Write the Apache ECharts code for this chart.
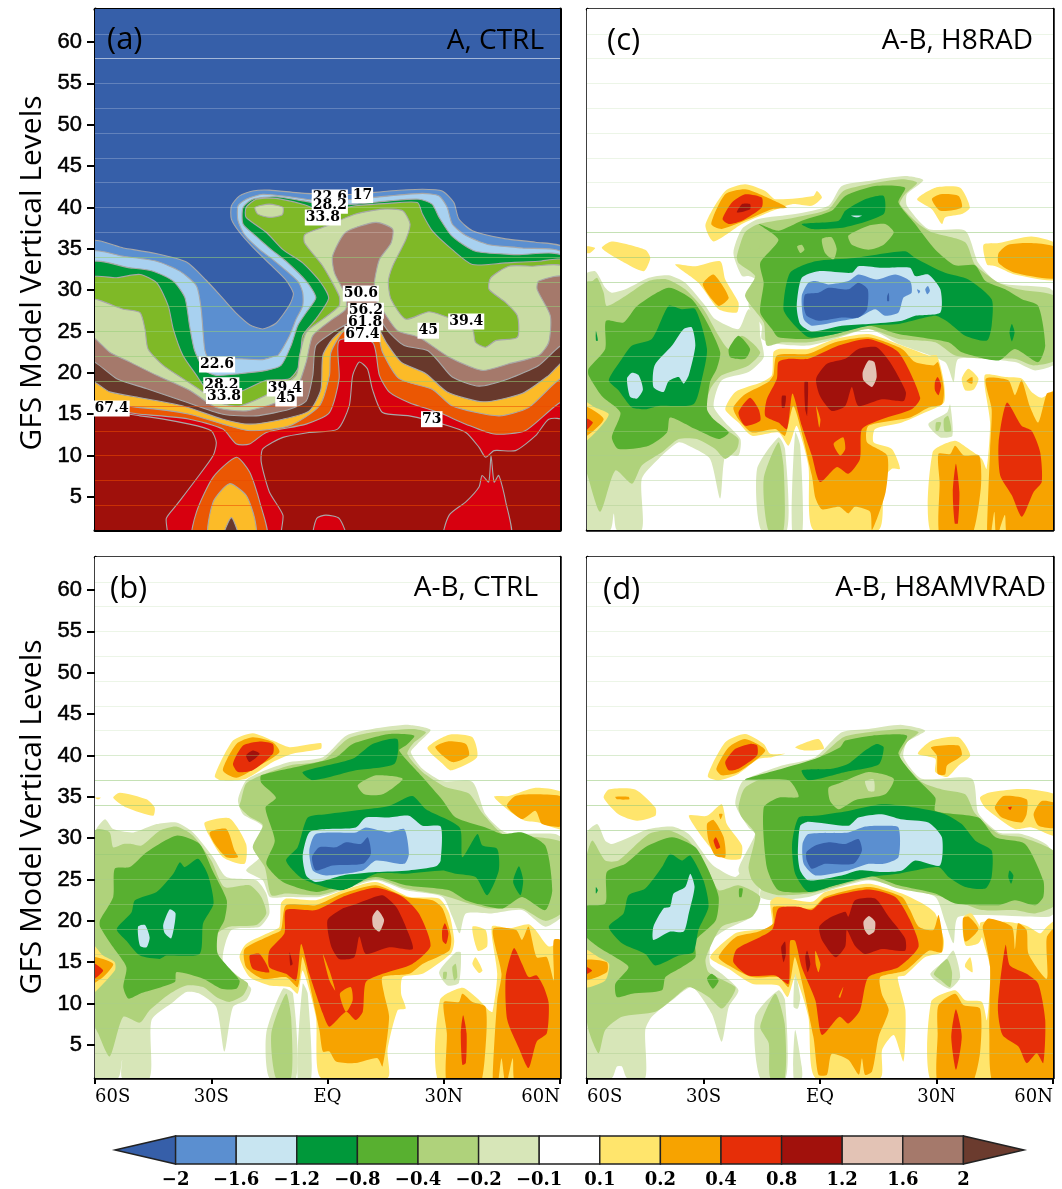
<!DOCTYPE html>
<html><head><meta charset="utf-8">
<style>html,body{margin:0;padding:0;background:#fff}#c{width:1062px;height:1189px}</style>
<script src="https://cdn.jsdelivr.net/npm/echarts@6/dist/echarts.min.js"></script></head>
<body><div id="c"></div>
<script>
const xTicks = {'-60':'60S','-30':'30S','0':'EQ','30':'30N','60':'60N'};
const yTicks = [5,10,15,20,25,30,35,40,45,50,55,60];
const faintLevels = [4,7,10,13,16,19,22,25,28,31,34,37,40,43,46,49,52,55,58,61];
const colorbarLabels = ['−2','−1.6','−1.2','−0.8','−0.4','−0.2','−0.1','0.1','0.2','0.4','0.8','1.2','1.6','2'];
const diffColors = ['#365fa9','#5b8fd0','#c8e5f1','#00983a','#58b030','#afd27b','#d7e6b8','#ffffff','#ffe56c','#f7a300','#e62e08','#a1110c','#e3c3b5','#a5796b','#6b3b2e'];
const ctrlColors = ['#365fa9','#5b8fd0','#a8d1f0','#00983a','#7fb927','#c9dca3','#a5796b','#68392c','#fcbb28','#eb5703','#d7000f','#9f100b'];

// contour regions: [colour class, [lat, level, lat, level, ...]], outermost first
const regionsA = [
[1,[-61,35.8,-52.7,35.1,-44,34.4,-36.4,33.4,-31.3,31.2,-27,29,-23.5,27.2,-20,25.8,-16.7,25.3,-13.3,26,-9.8,28.2,-8.8,29.6,-10.7,31.2,-15,33.2,-19.3,35.2,-22.7,37,-24.8,38.6,-24.8,40.2,-22.7,41.4,-19.3,42,-15,42.1,-8.1,41.8,-1.2,41.6,7.3,41.6,15.9,42,24.5,42.2,29.6,42,32.6,40.6,33.9,38.6,37.4,37.2,46,36.2,53.7,35.8,61,35,61,0,-61,0]],
[2,[-61,34.5,-52.7,34.1,-44.1,33.5,-38.1,32.3,-33.8,30.5,-32.6,27.7,-31.7,22.9,-30.8,21.9,-22.7,21.7,-16.7,21.6,-13.8,22,-12.8,22.1,-9.8,24.5,-8.1,26.5,-6.4,28.1,-6.4,29.7,-7.7,31.1,-14.1,33.7,-17.5,34.9,-21.4,36.7,-23.1,38.4,-23.1,40.2,-21,41,-16.7,41.6,-9.8,41.3,-3.8,40.9,7.3,41,15.9,41.4,24.5,41.7,28.8,41.4,30.9,40,32.2,38,35.7,36.6,41.7,35.5,50.2,35.1,61,34.3,61,0,-61,0]],
[3,[-61,33.2,-51,32.7,-45,32.3,-39.8,31.1,-36.8,29.1,-35.6,25.7,-34.3,22.7,-31.7,20.3,-28.7,19.7,-22.7,19.9,-15.8,20.3,-12,20.9,-9.4,23.3,-7.7,25.7,-5.5,27.3,-3,29.1,-5.5,31.1,-10.7,33.5,-14.5,34.9,-18.4,36.5,-21.8,38,-21.8,40,-19.3,41,-13.3,41.3,-6.4,40.8,-1.2,40.4,7.3,40.4,15.9,40.8,23.6,41,27,40.4,28.8,38.8,32.2,36.5,38.2,34.7,48.5,34.3,61,33.9,61,0,-61,0]],
[4,[-61,31.4,-54.4,31.5,-48.4,31.9,-44.1,30.9,-41.1,28.1,-39.8,25.3,-37.3,22.1,-33.8,19.7,-31.7,18.3,-28.7,17.5,-22.7,17.7,-15.8,19.1,-9.8,19.3,-7.2,20.9,-6.4,24.5,-3,26.5,0.3,29,-1.7,30.9,-6.4,33.3,-11.5,34.9,-15.8,37,-21,38.8,-21,40,-18.4,41,-13.3,41.1,-6.4,40.4,-1.2,39.6,7.3,40.2,15.9,40.5,23.2,40.6,24.5,39.2,27,37.2,32.2,34.9,37.4,33.1,46,33.3,54.5,33.5,61,33.5,61,0,-61,0]],
[5,[-61,28.7,-52.7,27.7,-48.4,27.3,-47.1,25.3,-46.3,22.9,-42.4,20.9,-37.3,19.3,-32.1,17.7,-27.9,16.4,-22.7,16,-15,17.5,-8.1,19.7,-7.2,22.1,-5.5,24.9,-1.2,26.5,3,28.1,3,29.3,-1.2,32.9,-5.9,35.7,-5.9,36.7,-1.2,37.6,7.3,39.2,14.2,39.8,19.4,39.6,21.3,38,20.2,36.1,16.8,32.9,15.7,31,16.4,28.9,20.2,26.5,26.2,27.4,32.2,26.5,37.4,25.3,38.2,23.7,40.8,23.1,43.4,23.9,49,24.3,49,26.9,46,28.5,41.7,30.1,42.1,31.5,46.8,32.9,52.8,32.9,61,32.7,61,0,-61,0]],
[5,[-18.7,40,-15,40.4,-11.5,40,-11.7,39.1,-15,38.8,-18,39.2]],
[6,[-61,24.3,-56.2,22.5,-51,21.3,-44.1,19.7,-35.6,17.9,-28.7,15.8,-21,15.4,-13.3,16.4,-8.1,18,-5.5,21.3,-3.8,24.5,1.3,26.5,4.7,27.7,4.7,29.3,1.8,32.1,1.3,34.1,4.7,37,12.5,38.2,16.8,37.4,16.4,35.7,13.4,33.7,12.1,30.9,12.5,28.9,14.6,27.3,18.1,25.1,23.6,24.3,31.4,21.9,39.9,20.3,46.8,21.1,54.5,22.1,57.1,23.7,57.5,26.9,54.1,30.1,54.5,31.1,61,31.5,61,0,-61,0]],
[7,[-61,21.3,-54.4,19.3,-46.8,18.1,-37.3,16.6,-27,15,-18.4,14.8,-9.8,15.6,-5.5,16.6,-3.8,19.7,-3,23.3,1.3,24.9,5.6,26.1,7.3,26.9,12.5,26.9,15.9,24.9,19.8,23.3,25.8,22.7,28.8,21.3,32.2,19.5,39.1,18.4,46.8,19.3,54.5,20.9,61,23.3,61,0,-61,0]],
[8,[-61,18.9,-56.2,17.7,-48.4,17,-37.3,16,-27,14.4,-20.1,13.8,-11.5,14.4,-4.7,15.4,-1.7,18,-1.2,22.1,1.3,24.1,5.6,25.7,12.5,25.7,15.1,23.7,19,21.3,25.4,19.9,30.9,17.7,40.2,16.5,50.2,17.5,57.1,19.7,61,21.3,61,0,-61,0]],
[9,[-61,16,-48.4,15.8,-35.6,15,-27,13.8,-20.1,13,-9.8,13.6,-2.1,16,0.5,19.7,0.9,22.5,4.8,25.3,12.5,25.1,14.2,22.5,18.5,19.3,27.1,18,32.2,16,44.2,14.8,51.9,15.8,61,19.3,61,0,-61,0]],
[10,[-61,15.4,-48.4,15,-35.6,14.4,-27,13.2,-23.5,11.4,-20.1,11.4,-15.8,12.8,-5.5,13.8,0.5,15.2,3,19.3,3,23.9,11.6,23.7,13.4,19.7,15.9,17.7,21.1,16.4,28.8,15.2,35.7,13.8,43,12.6,51,13,61,16.4,61,0,-61,0]],
[11,[-61,15,-48.4,14.8,-35.6,13.8,-30,13,-28.7,11.6,-29.5,10,-33.8,7.2,-39,4,-41.6,2.4,-41.6,0,-61,0]],
[11,[-17.1,9.2,-16.7,10.8,-11.5,12.2,-4.7,12.8,2.6,13.2,5.6,16,6.5,19.7,8.2,21.3,10.3,20.5,11.6,18,14.2,15.2,21.1,14.8,29.7,13.8,35.7,12.8,39.1,11,40.8,9.8,43,10.6,48.5,10.6,53.7,12.4,57.1,14.4,61,14.2,61,0,-11.5,0,-11.5,2.8,-15,5.6]],
[9,[-34.7,0,-33.8,3.2,-29.5,7.4,-23.5,9.8,-20.1,8,-17.5,4.4,-15.8,0]],
[8,[-30.6,0,-29.5,4.4,-25.3,6.6,-21,5.2,-18.8,2.4,-18.7,0]],
[7,[-27,0,-24.8,2.5,-22.9,0]],
[10,[-3.6,0,-2.8,2.4,-0.4,2.8,3,2.4,4.8,0]],
[10,[30.1,0,31.4,2.8,35.7,4.4,39.1,6.2,39.9,7.6,41.6,6.8,42.2,10,43,6.8,44.2,7.6,46,4.4,47.2,0]]
];

const regionsB = [
[6,[-60,30.7,-57.4,32.3,-55.3,31.1,-50.1,30.7,-44.1,31.7,-39,31.9,-34.7,30.7,-29.5,27.7,-26.1,25.3,-18.4,24.9,-15.8,23.3,-15,20.9,-17.5,19.3,-24.8,18.9,-27,15.2,-22.3,13,-19.7,11.8,-21,10.4,-24.4,9.6,-26.6,4.2,-28.7,9.6,-33,11.2,-36.4,11.4,-39.8,10.2,-45.4,8,-45.9,1,-53,1,-53,3.2,-54,1,-61,0]],
[5,[-61,30.5,-59.2,31.1,-56.2,30.7,-55.3,28.9,-52.7,29.3,-50.6,29.3,-48,29.1,-43.3,30.9,-39,31.4,-34.7,30.3,-30,27.3,-26.6,24.1,-20.1,24.3,-17.1,22.9,-15.8,20.9,-18.4,19.5,-25.3,19.3,-28.3,18.5,-28.3,15.6,-23.5,13.4,-20.5,12.4,-21.8,11,-25.3,10.2,-28.7,10.8,-32.1,12,-36.4,12.2,-40.7,11.2,-45.9,9.2,-48.4,7.7,-52.7,8.4,-56.2,3.6,-59.2,6.4,-61,8.4]],
[4,[-58.7,20.1,-55.3,22.9,-54.9,26.3,-51,26.5,-46.7,28.3,-39,30.3,-33,29.3,-29.5,25.9,-26,22.5,-26.6,20.1,-28.3,18.5,-28.3,16,-22.7,12.8,-23.5,11.8,-27.4,11.8,-32.1,13,-39,13.8,-39.4,12.6,-48.4,11.2,-51.4,10.6,-52.7,12,-51.9,14.4,-55.3,16.8,-58.7,19.3]],
[3,[-54.4,19,-50.6,21,-49.7,22.5,-44.1,23.5,-39.8,25.7,-38.1,27.1,-36.8,26.5,-33.4,27.5,-30.8,25.5,-29.4,22.1,-32.1,19.7,-33,16,-41.6,15.8,-43.3,15.4,-48.4,15.8,-51.9,17.6]],
[2,[-48.9,19.3,-47.1,19.5,-45.9,18,-46.7,16.8,-48.4,17]],
[2,[-42.4,19.5,-40.7,21.4,-39.2,20.9,-40.3,17.9,-42,18.5]],
[6,[-23.1,34.6,-21,37,-17.1,38,-9.8,39.2,-1.2,39.8,4.8,42.4,11.6,43.2,21,43.7,26.6,43.1,23.2,41.4,21.5,40.4,24.5,38.4,29.7,36.9,37.4,36.8,40.8,32.9,46,30.7,58.8,30.5,61,29.7,61,20.9,56.2,19.3,50.2,21.3,42.4,20.9,35.7,20.9,34.1,18.5,32.2,20.5,29.7,22.9,20.2,23.7,12.5,24.9,3.9,23.7,-2.1,22.9,-10.7,22.9,-14.9,22.9,-16.7,24.9,-21,26.1,-17.5,27.7,-16.7,31.4,-21.8,32.9]],
[5,[-22.3,34.6,-21,36.6,-17.1,37.6,-9.8,38.8,-1.2,39.4,5.2,42,11.6,42.8,22,43.2,25.4,42.8,22,41.4,20.6,40.2,24.5,38,30.4,36.2,36.5,35.4,40,33,45.2,30.5,50.2,30.3,61,29.3,61,21.3,56.2,20,50.2,21.5,41.7,21.5,36.5,22.1,29.7,23.1,20.2,23.9,12.5,25.1,3.9,23.9,-2.1,23.1,-10.7,23.3,-14.5,23.1,-16.2,26.5,-19.3,28.9,-16.7,31.6,-20.1,32.6,-22.7,33.8]],
[4,[-17.1,37.6,-6.4,38.8,2.2,39.8,6.5,41.4,15.9,42.6,22.4,42.4,20.2,41.2,18.5,40.6,24.5,37.4,29.7,34.6,33.1,32.5,40.8,31.3,45.2,30.5,50.2,30.7,56.2,29.1,58,23.7,56.2,21.3,50.2,22.9,45.2,21.5,40,21.9,35.7,22.5,31.4,23.7,20.2,24.3,12.5,25.3,3.9,24.3,-2.9,23.5,-11.5,24.7,-15.8,26.9,-13.6,29.7,-16,33.7,-13.3,34.9,-17.1,36.7]],
[5,[7.8,36.4,12.5,37.6,19.4,37.2,14.2,35.3,9.5,35.3]],
[3,[-10.7,27.3,-7.7,28.9,-5.1,32.5,-0.4,32.9,9.9,33.5,15.9,33.9,21.9,35.1,25.4,33.5,34.1,31.3,34.8,27.7,38.7,30.5,40,29.1,43.8,28.7,44.2,26.1,41.2,23.1,38.2,25.3,33.1,25.7,29.7,26.1,20.2,25.7,12.5,25.7,3.9,23.7,-6.4,25.1]],
[3,[-6.4,38,6.5,39.6,11.6,41.4,18,42,17.3,39,7.3,38.2,-3.8,37]],
[3,[49.4,26.6,50.5,24.9,49.8,23.1,47.9,24.7]],
[2,[-6.4,27.9,-4.7,30.7,-0.4,31.1,7.3,31.3,9.9,32.5,15.9,32.5,21,32.7,24.5,31.5,29.2,31.4,29.2,27.3,28,26.6,21,26.1,12.5,25.9,3.9,25.5,-2.9,24.7,-5.5,25.5]],
[1,[-4.7,28.5,-3,30.5,7.3,30.7,9.9,31.3,15.9,30.7,19.8,31.1,21,28.1,19.8,26.9,12.5,27.3,9.1,26.1,-0.4,25.5,-3.8,26.1]],
[0,[-4,27.7,-2.1,28.9,2.2,28.9,4.8,29.5,8.6,29.3,10.4,30.1,11.2,28.1,9.1,26.9,1.3,26.7,-3,26.1]],
[8,[-12,22.1,-10.7,22.7,-3,22.5,4,23.7,12.5,24.7,21.1,22.9,28.8,22.7,31.4,20.9,32.7,17.6,31.9,16.1,24.5,13.6,19.4,13.2,19,11.2,20.2,9.4,18.1,9.2,15.5,4.4,15.5,1,-1.7,1,-3,8.4,-6.4,14,-7.7,11.2,-9.8,12,-15,12.2,-20.1,13.2,-22.7,15.6,-21,17.2,-14.5,18.7,-12.4,19.3]],
[9,[-10.7,21.9,-3,21.9,3.9,23.3,12.5,24.3,20.2,22.9,27.1,22.5,29.7,21.5,31.9,18.1,31.4,16.4,24.5,14.8,21.1,13.6,14.2,13.2,14.6,11.2,15.9,8.4,14.2,2.4,12.9,3.4,7.3,2.8,2.2,3,0.5,4.2,-1.2,4.2,-2.1,6.8,-6.4,15.6,-7.7,12,-10.7,13.2,-16.7,13,-21,14.4,-21.4,16.6,-14.5,18.3,-12,18.9]],
[10,[-10.7,21.3,-3,21.3,3.9,22.9,12.5,24,19.4,22.9,23.6,20.9,26.6,17,21.9,14.8,14.2,13.6,9.9,12.6,9.1,9,7.3,8,4.8,9,0.5,7.2,-1.2,8.8,-4.7,13.6,-6.8,17.2,-8.1,12.8,-10.7,13.6,-15,14.4,-15,16.4,-11.1,18.5]],
[10,[-20.1,15.8,-17.5,16,-15,13.8,-19.3,14.2]],
[9,[-1.2,16,0.5,14,2,11.6,0.5,12.8]],
[9,[3.2,11.2,6,12,6.5,10.4,4.8,9]],
[11,[0,20.1,3.9,21.5,6.5,21.9,9.9,22.5,14.2,23.1,17.7,21.7,20.2,19.3,22,16.6,15.9,16.8,9.9,16,8.2,18.1,6.9,15.6,3,15.4,0.9,17]],
[12,[11.6,20.5,12.9,21.3,14.6,20.1,13.4,18.7,11.8,19.3]],
[11,[-9.8,16.2,-9,14.8,-9.6,14.6]],
[10,[29.6,18.9,30.3,19.7,31.2,18.5,30.6,17.2,29.7,17.6]],
[8,[-29.1,37.5,-24.4,41.8,-19.3,42.7,-14.1,41.8,-9.8,41,-1.7,41.5,-1.7,40.8,-9,40.2,-14.1,39.2,-21,37.2,-27.4,37]],
[9,[-27,38.2,-23.5,41.4,-19.3,42.2,-14.1,41.6,-12.4,40.4,-17.5,38.8,-23.5,37.3]],
[10,[-24.4,39,-21.8,41.2,-17.5,41.7,-14.1,41.4,-14.1,40.2,-19.3,38.2,-23.1,38]],
[11,[-21,40,-19.3,40.6,-17.5,40.2,-20.1,39.2]],
[8,[25.8,40.9,31.4,42.5,37.4,42.2,38.6,39.8,31.9,38.2,29.7,39]],
[9,[27.8,41,31,41.7,35.7,41.4,36.5,40,32.2,39.2]],
[8,[-55.3,34.9,-53.6,35.5,-46.7,34.7,-44.6,33.7,-45,32.7,-51.9,33.7]],
[8,[-60,34.9,-58.5,34.9,-59.2,34.7]],
[8,[-31.7,31.9,-25.3,32.4,-21,29.3,-21.4,26.9,-27,27.7,-30.8,30.5]],
[9,[-30.4,30.7,-26.1,31.1,-24,28.5,-23.1,27.7,-26.1,27.7,-29.1,29.3]],
[8,[-61,17.3,-57.9,15.8,-54.9,15,-54.9,14,-61,11.2]],
[9,[-61,15.6,-55.3,14.8,-57.9,13.2,-61,12.4]],
[10,[-61,15,-57.9,14,-61,12.8]],
[8,[43,35,46.8,35.1,53.7,36.1,61,35.4,61,31.1,54.5,31.9,51,32.1,47.7,33]],
[9,[46.3,33.9,48.5,35.1,53.7,35.3,61,34.9,61,31.5,55.4,31.7,53.7,33.3,50.2,32.3]],
[8,[37.4,19.3,40.8,18.9,41.2,16.9,38.8,16.4]],
[8,[29,10.4,34.8,11.9,38.7,10.6,41.6,9.2,42.6,9,43.8,13.6,42.4,19.3,46.8,19.1,51.9,19.6,53.7,18.9,57.1,16.9,61,17.5,61,0,29.4,0]],
[9,[30,10.2,33.9,10.2,34.8,11.2,37.4,10.2,40.8,9.6,40.8,4.8,39.1,0,31,0,30.8,6.4]],
[9,[42.7,19,48.7,18.9,50.2,17.7,51.9,19.3,54,15.6,56.6,15.6,58.4,12.8,58.4,17.7,61,17.5,61,0,48.7,0,47.8,3.4,46,0,44.9,3.4,43.8,0,42.6,0,43.8,10.4,44.9,13.6]],
[10,[46,13.2,48.1,16.7,50.2,14.8,51.9,13.2,54,13.4,55.8,12,57.1,10,56.6,6.4,54,5.4,51.9,2.2,49.4,4.6,46.4,8]],
[10,[34.4,6.4,35,8.6,35.9,6.4,35.7,2.8,34.8,2.6]],
[8,[37.4,14.8,38.2,15.6,40,14,39.1,13.7]],
[6,[28.8,13.8,33.1,16.2,34.4,16.2,33.9,12.5,31,12.2]],
[5,[32.2,14.4,33.1,14.8,33.5,13.2,32.7,12.8]],
[5,[29.9,13.8,30.8,13.8,30.6,13,29.9,13]],
[6,[-15.8,6.4,-11.5,11.8,-8.9,11.2,-8.1,1,-15,1]],
[5,[-14.5,6.4,-10.7,11.2,-9.4,8.4,-9.4,1,-13.3,1]],
[6,[-7.7,1,-6.4,12.4,-5.1,11.2,-4.2,1]]
];

const regionsC = [
[6,[-61,31.7,-57.9,32.3,-55.3,30.3,-53.6,29.7,-50.1,30.1,-44.1,31.5,-39,31.8,-34.7,30.9,-29.5,28.1,-27,26.5,-21,25.3,-18.4,27.7,-15.8,26.5,-15.4,24.5,-14.5,21.9,-18.4,20.1,-25.3,19.1,-27.4,16,-24.4,14,-20.5,12,-21,10,-24.4,10,-25.7,4.8,-28.3,9.6,-33,11,-36.4,11.6,-41.6,9.6,-45.9,7.2,-45.9,1,-52.3,1,-53.1,3,-54,1,-61,0]],
[5,[-61,30.9,-58.7,31.1,-57.4,31.5,-55.7,29.7,-54.9,28.1,-50.1,29.3,-44.1,31.1,-39.4,31.3,-34.7,30.1,-30,27.7,-26.1,24.5,-23.5,22.9,-20.1,24.5,-15.4,22.5,-18.4,20.9,-25.3,19.7,-28.3,18,-29.5,15.2,-24.4,13.2,-21,12,-21.4,10.8,-24.4,9.6,-27,10.8,-31.7,12,-36.4,12,-40.7,10.4,-45.9,8.8,-48.4,6.6,-52.7,8.2,-56.6,3.2,-59.6,7.2,-61,10]],
[4,[-59.6,20.5,-55.3,22.9,-55.1,26.3,-50.6,26.1,-47.1,28.1,-39,30.3,-33,28.9,-29.1,26.1,-25.7,22.5,-26.6,20.5,-28.3,18.9,-29.1,15.6,-27.4,14.4,-23.5,12.8,-26.1,12,-32.1,13.2,-38.6,14.6,-39.4,12.8,-44.1,11.2,-51.9,10.8,-53.6,12.2,-51.4,15.2,-56.2,17.2,-59.6,19.7]],
[4,[-23.5,22.9,-21,24.5,-18,22.9,-19.3,21.7,-23.1,21.9]],
[3,[-54.4,19.1,-51,21.7,-48.4,23.3,-43.3,24.1,-39,28.1,-35.6,27.7,-32.1,27.7,-29.1,22.9,-30.4,19.3,-32.6,16.2,-41.6,16,-45,15.6,-48.4,15.8,-51.9,17.9]],
[2,[-49.7,19.3,-48.4,20,-46.7,19.7,-45.6,18,-47.1,16.9,-48.9,17.1]],
[2,[-42.9,18.3,-42.6,20.9,-38.1,23.3,-35.1,25.3,-33,25.5,-32.1,23.3,-33.8,19.7,-35.1,18.7,-36.4,19.5,-39,19,-40.3,17.7]],
[3,[-57.7,25.1,-57.2,23.9,-57.7,23.9]],
[6,[-22.3,34.5,-20.1,37.4,-15.8,38.6,-6.4,39.2,2.2,40.2,5.6,42.6,12.5,43.2,21.9,43.8,26.6,43.3,22.4,41.6,22.4,40.2,27.9,37.4,37.4,37.2,40.8,33.3,46,30.9,58.8,30.3,61,29.3,61,21.3,55.4,20.3,50.2,21.3,35.7,21.7,34.4,18.9,32.2,21.3,20.2,23.5,12.5,25.3,3.9,24.1,-3,23.3,-10.7,23.5,-15,24.1,-15,25.7,-18.4,28.1,-16.7,31.3,-18.4,31.7,-20.1,31.7]],
[5,[-21.4,34.1,-19.3,37,-15.8,38,-6.4,38.8,2.2,39.8,6,42,12.5,42.8,21,43.4,25,43,21.9,41.6,20.6,40.4,25.4,38,28.8,37,37.4,35.8,39.9,33.1,46,30.9,51,30.1,61,29.1,61,21.7,55,20.9,50.2,21.7,43.4,21.7,34.8,22.1,29.7,23.7,20.2,24.1,12.5,25.3,3.9,24.3,-3,23.7,-9.8,23.7,-13.7,23.3,-14.5,26.1,-19.3,29.3,-16.7,31.7,-21,33.3]],
[4,[-15.8,38,-10.7,37.2,-4.7,38.4,3,39.6,6.5,41.4,14.2,42.6,21.9,42.4,20.2,40.6,24.5,38,29.7,34.9,34.8,33,39.9,33,42.6,31.1,47.7,30.1,52,28.9,56.2,28.1,58,23.3,56.2,21.3,50.2,22.9,46,21.5,36.5,22.5,33.1,23.7,20.2,24.7,12.5,25.7,3.9,24.7,-3,24.1,-10.7,24.3,-12.4,25.3,-15.4,27.3,-14.5,30.9,-15.4,33.3,-10.7,36.1]],
[5,[-18,36.2,-15.4,36.2,-15.8,35,-18,35]],
[5,[-5.9,35.3,-4.7,35.5,-4,34.9,-5.1,34.5]],
[5,[0.5,36.2,3,36.4,4.3,35,3.5,33.7,1.3,34.5]],
[5,[7.3,36.6,12.5,37.8,16.8,38,19,37,16.4,35.5,12.5,34.9,8.2,35.5]],
[3,[-9.4,27.7,-7.7,32.1,-1.2,33.5,9,33.9,21.9,34.7,24.5,33.9,32.2,32.1,38.2,31.3,44.2,28.9,44.2,25.7,43,23.9,37.4,24.5,33.1,26.1,29.7,26.9,20.2,25.9,12.5,25.7,3.9,24.7,-2.9,24.3,-7.2,26.1]],
[3,[-4.7,38,4.8,38.4,6.5,39.6,11.6,41,16.4,41.4,16.4,39.2,6.5,37.6,-2.1,37.4]],
[3,[49.4,25.9,50.1,24.9,49.4,23.8,48.8,24.9]],
[2,[-6,28.1,-4.7,31.5,-0.4,32.3,8.2,32.1,9.9,32.9,15.9,32.7,23.2,32.7,24.5,31.7,27.9,31.9,31,30.1,31,27.3,24.5,26.9,21.1,26.3,12.5,25.9,5.6,25.7,-2.1,25,-5.1,25.9]],
[1,[-4.7,29.3,-3,30.9,-1.2,31.1,2.2,30.7,7.3,31.1,9.9,31.9,14.6,31.3,19.4,31.9,23.2,31.1,23.6,29.7,21.5,29.1,20.2,27.3,16.8,26.9,14.2,27.7,9.9,26.7,5.6,26.3,-2.1,25.7,-4.2,26.5]],
[0,[-4.2,28.1,-3.8,29.5,-0.4,29.7,2.2,30.3,7.3,30.1,9.9,30.9,12.3,30.1,12.1,27.7,9.9,26.7,5.6,26.7,-0.4,26.3,-3.4,26.9]],
[0,[17.3,29.3,17.7,29.7,17.8,28.7,17.3,28.7]],
[1,[25,30.1,25.8,29.9,25.4,29.6]],
[1,[27.1,30.1,27.8,30.5,28.3,29.9,27.6,29.5]],
[2,[8,39,10.8,39,9.5,38.8]],
[8,[-12,22.5,-10.7,22.9,-3,22.9,3.9,24.1,12.5,24.7,21.1,23.3,28,22.1,30.1,22.1,31.9,18.9,31.9,16.4,27,15.2,21.1,14,14.2,13.2,13.8,11.6,18.5,10.8,20.6,8.4,18.5,8.4,16.4,7.2,15.1,1,-1.7,1,-3,8.8,-6,13.6,-8.1,11.2,-10.7,12.8,-17.5,12.4,-21,14,-24.4,15.6,-21.8,17.7,-14.9,18.9,-12.4,19.7]],
[9,[-11.1,22.1,-3,22.3,3.9,23.7,12.5,24.3,21.1,22.9,24.5,21.3,29.2,20.9,30.4,21.3,31.9,18,31.4,16.2,28,15.8,23.2,14.6,12.5,13.6,12.1,11.6,17.3,10,16.9,5.6,13.4,1,12.9,3.2,9,3.8,7.3,3,5,3.8,0.5,3.5,-1.2,4.9,-2.1,7.6,-6.8,16,-9,12.4,-11.5,13.2,-17.5,12.8,-21,14.4,-22.3,15.8,-19.3,17.4,-13.3,18.9,-12,19.7]],
[10,[-10.7,21.3,-8.1,21.7,-3,21.7,4.8,23.3,12.5,24.1,20.2,22.5,25.8,17,23.6,15.6,15.9,14.4,10.8,13.2,10.3,9.6,7.3,7.8,4.3,8.6,0,6.8,-2.1,10,-4.7,13.6,-7.1,17.5,-8.5,13.2,-10.7,14,-14.1,14.8,-13.7,16.8,-11.1,19.3]],
[10,[-21,15.2,-18,17,-15.8,15.6,-15.4,14.2,-19.3,13.6]],
[9,[3.5,11.4,6,12.2,6.5,10.8,5.2,10]],
[9,[-1,16,0.1,14.4,-0.2,13.4]],
[11,[-1,19.3,1.8,21.1,6.5,21.7,9.9,22.9,14.6,23.1,18,21.3,22.1,17.7,21.5,16.6,15.9,16.8,9.9,16,8.2,18.3,6.5,16,3,15.4,0,17.2]],
[12,[11,20.1,12.5,21.5,14,21.3,14.6,19.5,13.4,18.3,11.2,19.1]],
[11,[-9.8,17.2,-8.8,17.2,-9.1,15.8,-9.8,15.8]],
[11,[-4,18.9,-3.1,18.9,-3.3,14.8,-3.8,15.6]],
[10,[29.6,18.9,30.3,19.5,31.2,18.5,30.5,17.3,29.6,17.9]],
[8,[-29.5,37.9,-24.4,42,-19.3,42.8,-14.1,42,-11.5,41,-1.7,41.4,-0.8,42,0.5,41.2,-2.1,40.2,-7.2,40.4,-13.3,39.4,-20.1,38,-27.4,35.9]],
[9,[-28,38,-24.4,41.6,-19.3,42.2,-14.5,41.4,-8.5,40,-12.4,39.8,-18.4,38.6,-25.3,37.4]],
[10,[-25.1,38.6,-22.7,40.6,-19.3,41.6,-15,41.2,-15,40,-20.1,38.4,-23.5,38]],
[11,[-21.4,39.4,-20.1,40.4,-18,40.4,-18,39.8]],
[8,[25,41,29.7,42.4,36.1,42.4,38.6,40,36.5,39.2,32.2,38.8,31.4,38,28.8,39.8]],
[9,[28.8,41,31,41.6,35.7,41.4,36.5,40,31,39.6]],
[8,[-56.2,35.1,-53.6,35.9,-45,34.9,-43.7,33.9,-45.4,32.3,-51,33.5]],
[8,[-60,35.3,-57.9,35.1,-59.2,34.5,-60,34.5]],
[8,[-37.3,33.1,-32.1,32.9,-25.7,33.5,-24.4,31.3,-21,28.5,-21.4,27.3,-26.1,27.7,-31.3,30.9]],
[9,[-30.2,30.7,-27.4,31.9,-23.5,29.1,-26.1,28.1]],
[8,[-61,16.6,-57.9,15.8,-54.4,15,-57,13.2,-61,11.6]],
[9,[-61,16,-55.7,14.4,-61,12.2]],
[10,[-61,14.6,-58.5,14,-61,12.8]],
[8,[42.1,35.5,46,35.7,54.5,36.5,61,35.5,61,31.3,50.2,31.9,45.2,32.9,43,33.1]],
[9,[46,34.5,48.5,35.5,54.5,35.7,61,35.1,61,31.5,50.2,32.1,46,33.3]],
[8,[36.5,19.3,38.2,20.5,40.8,19.3,39.6,18,37.4,17.9]],
[9,[37.7,19,39.2,19.5,39.2,18.7]],
[8,[29,10.4,34.7,11.8,38.3,10.8,41.7,9.6,42.9,8.4,43.8,14,42.4,19.7,47.7,19.5,52,19.3,54.5,17.7,57.1,17,61,18,61,0,29.4,0]],
[9,[30.5,10.2,33.5,10.2,34.8,11.2,37.1,10,41,10,41.4,6,38.7,0,31,0,30.8,6.8]],
[9,[42.7,19.3,48.5,19.1,50.2,17.3,51.9,19.1,54,16,56.2,14,58.4,17.5,59.7,17.7,61,17.7,61,0,48.5,0,47.6,2.8,45.4,0,44.9,3.2,43.8,0,43,0,43.8,10.8,44.2,15.6]],
[10,[46,11.6,48.1,16.4,51.9,13.6,54.5,13,56.7,10.4,57.1,6.8,55,5.6,52,2.6,49.4,5.2,46.4,7.6]],
[10,[34.2,5.6,35,9,35.9,5.6,35.5,1.8,34.7,1.8]],
[6,[27.9,13.8,32.7,15.2,33.5,16.2,34.1,12.4,31,12.2]],
[5,[31.9,14.4,33,14.8,33.8,13,32.1,12.9]],
[5,[29.9,14,31.2,14,30.5,13,29.8,13]],
[6,[-16.2,8.4,-10.7,12.2,-9,10.8,-8.5,1,-15.2,1]],
[5,[-14.5,7.2,-10.7,11.6,-9.4,8.8,-9.4,1,-13.3,1]],
[6,[-7.2,1,-6.4,12.8,-5.1,11.2,-4.5,1]]
];

const regionsD = [
[6,[-61,30,-57.4,31.7,-55.3,29.7,-53.6,29.3,-50.1,29.9,-44.1,31.1,-38.1,31.4,-33.8,30.5,-28.7,27.3,-27,26.5,-21.8,25.3,-18.4,26.9,-15.8,26.5,-15.8,21.7,-17.5,20.5,-24.4,18.9,-27.9,17.6,-28.3,14.8,-25.3,13.6,-21,11.6,-23.5,9.6,-25.3,5.4,-27.9,8.8,-33,12,-38.1,10.4,-43.3,8.4,-45,6.8,-45,1,-49.7,1,-51,2.4,-52.3,2.4,-53.6,1,-61,0]],
[5,[-61,25.7,-58.7,29.7,-55.3,27.3,-51.9,27.3,-44.1,30.5,-38.6,30.9,-33.8,29.7,-29.1,26.5,-26.1,23.7,-21,24.3,-15.4,22.9,-17.5,20.5,-25.3,19.3,-28.7,16.4,-29.5,15.2,-28.7,13.8,-21.8,12,-22.7,10.8,-25.3,9.4,-28.7,10.8,-33.8,12,-37.3,10.8,-42.4,9,-51,8.4,-55.3,6.8,-57,4,-59.6,6.8,-61,11.6]],
[4,[-61,21.7,-55.3,22.1,-54.9,25.9,-50.1,26.9,-45,28.9,-38.1,30.1,-32.1,28.9,-28.7,26.1,-26.1,22.9,-26.9,20,-32.1,17.6,-32.1,15.6,-35.6,14.4,-39.8,13.2,-40.7,11.6,-48.4,11.2,-52.3,10.8,-52.7,12.4,-49.3,14.4,-52.7,15.6,-57,16.8,-61,18.5]],
[4,[-29.1,13,-27.9,13.6,-26.1,12.8,-27.6,11.8]],
[4,[-20.8,23.9,-19.9,23.9,-20.2,22.9,-20.8,22.9]],
[7,[-18.8,24.9,-17.5,25.4,-16.2,24.9,-17.5,24.3]],
[3,[-54.4,19.3,-50.6,20.9,-49.3,23.1,-45,23.9,-40.7,26.5,-38.6,28.1,-35.6,27.3,-33.4,27.9,-30,24.9,-28.7,21.7,-31.3,18.9,-32.6,16.2,-36.4,15.8,-42.4,14.6,-45,16,-51,17.3]],
[2,[-42.9,19.3,-40.3,21.5,-38.6,21.7,-37.7,23.3,-34.7,24.1,-33.4,25.7,-32.3,24.1,-33.8,20.9,-35.1,18.7,-38.6,18.7,-42.9,17.7]],
[3,[-57.7,24.1,-57.2,23.7,-57.7,23.3]],
[6,[-21.8,34.1,-20.1,36.8,-15.8,37.8,-9.8,38.8,-1.2,39.8,5.6,42.8,12.5,43.2,21,43.7,27.1,43,22.4,41.6,21.5,39.8,26.2,37.2,39.1,37.2,40.8,33,46,30.7,52,30.5,59,28.9,61,21.4,59,20.5,35.7,20.5,34.4,17.3,32.2,19.9,29.7,22.9,20.2,24.1,12.5,24.9,3.9,23.9,-2.9,22.9,-12.4,22.5,-15.4,22.9,-15,24.9,-17.5,24.1,-21,26.1,-16.7,30.5,-18.4,31.3]],
[7,[-18.8,35.4,-17.1,36.1,-15.8,35.4,-17.5,34.2]],
[5,[-21,33.7,-19.3,36.1,-9.8,38.2,-1.2,39.4,6,42.2,12.5,42.8,22,43.2,25.4,42.8,22.4,41.6,20.6,39.8,26.2,36.8,31.4,35.9,37.4,35.3,39.9,33,46,30.5,52,30.1,61,28.1,61,22.1,55.4,20.9,50.2,21.3,41.7,21.3,34.8,22.5,29.7,23.1,20.2,23.9,12.5,25.1,3.9,24.1,-2.9,23.3,-10.7,23.1,-14.9,23.7,-17.5,24.9,-18.4,26.5,-16.7,30.5,-20.1,32.5]],
[4,[-19.3,37.1,-9.8,38.4,-1.2,39.6,5.2,41,6.5,41.8,13.4,42.4,22.4,42.4,20.2,40.2,24.5,37.4,29.7,34.9,29.7,33.3,40.8,32.5,45.2,30.1,52.8,29.3,57.5,24.9,57.5,22.9,55.4,21.9,50.2,22.5,46,21.9,34.8,22.1,29.7,23.3,20.2,24.3,12.5,25.5,3.9,24.3,-2.9,23.5,-10.7,23.7,-13.7,26.5,-14.5,33.7,-10.7,34.9,-5.5,35,-8.1,37]],
[5,[2.2,36.1,4.8,36.6,12.5,38,19,37.2,16.8,35.3,9,34.6,4.8,33.5,2.6,34.5]],
[6,[11.6,36.9,13.8,37.1,14,35.7,12.5,35.7]],
[3,[-7.2,29.3,-5.5,32.5,-1.2,32.7,7.3,33.3,15.9,34.1,24.5,33.7,32.2,32.9,36.5,31.7,40,29.7,44.2,28.5,44.2,25.3,42.6,23.9,37.4,24.1,33.1,25.3,30.5,26.5,20.2,25.7,12.5,25.3,3.9,24.3,-3,23.5,-6.4,25.7]],
[3,[-4.7,38.2,3,38.4,7.3,39,11.6,40.6,14.6,41.4,16.4,41,15.1,38.9,6.5,38,-3,37]],
[3,[48.8,26.1,49.8,25.5,49.2,24.5,48.5,25.3]],
[2,[-5.7,28.1,-5.1,31.5,-3,32,7.3,31.5,9.9,32.5,15.9,32.9,20.8,32.3,27.9,31.9,31.4,30.1,30.9,26.7,24.5,27.3,21.1,26.1,15.9,25.9,9.9,26.1,5.6,25.5,-3,24.9,-5.1,26.1]],
[1,[-4.5,29.3,-3,30.5,7.3,30.7,11.6,31.4,15.9,31.5,20.2,31.3,20.2,27.7,16.4,26.9,12.5,26.9,7.3,26.1,-1.2,25.5,-4.2,26.9]],
[0,[-3.5,28.3,-1.2,29.1,2.2,29.5,6.5,29.3,9.9,29.9,10.8,28.5,8.6,26.9,1.3,26.9,-2.1,26.3,-3.4,27.3]],
[8,[-12.8,22.3,-11.1,22.9,-2.1,22.3,1.3,23.5,12.5,24.5,21.1,23.3,27.1,21.9,29.7,20.9,31.9,17.7,31.4,16.2,27,15.6,21.9,13.4,20,13.2,22,9.2,21.5,3,19,6.2,16,4.4,15.5,1,-1.2,1,-3,8.4,-6.4,13.2,-8.3,10.8,-10.7,12.2,-17.5,12.4,-23.5,14.2,-28.3,15.6,-21.8,18.5,-16.7,18.9,-12.4,19.3]],
[9,[-12,21.7,-2.1,21.5,1.3,22.9,12.5,24.1,21.1,22.9,23.2,21.3,25.4,19.3,29.2,18.9,30.5,20.7,31.6,18,31.3,16.2,28,16.4,22,14,15.5,13.2,15.9,11.2,17.7,9.2,15.1,6,13.4,1.8,11.6,1.4,10.8,3.4,10,1.4,7.3,3.2,3,3.9,1.8,1.4,-0.4,1.4,-1.7,6,-6.4,15.6,-8.1,12,-10.7,13.2,-17.5,13.2,-22.7,14.4,-26.1,15.6,-21.8,18,-15.8,18.7,-12,19.7]],
[10,[-10.7,21.5,-5.5,21.7,-2.1,21.3,1.3,22.7,12.5,23.8,19.4,22.9,23.2,20.1,25.4,16.9,20.2,14.4,12.5,13.2,10.3,9.2,7.3,7.6,5,8.4,0.5,6.2,-1.2,10.4,-4.7,14.4,-6.4,17.6,-7.7,17.6,-8.1,12.4,-11.5,13.4,-18.4,13.4,-22.3,15,-21.4,16.6,-12.4,18.9]],
[9,[-1.2,16.4,0.1,14.8,-0.4,13.8,-1.1,14.8]],
[9,[4.8,10.8,6,12,5.2,10.7]],
[11,[-0.2,19.3,2.2,20.3,6.5,21.1,7.3,20.5,9,22.5,14.2,22.7,17.7,20.5,21.9,17.9,21.9,16.4,15.9,16.6,11.6,16,9,17,6.9,18.9,6.5,16.9,4,15.6,0.5,17.7]],
[12,[11.2,19.9,12.6,20.6,14.2,19.9,14,18.7,12.6,18.3,11.5,18.9]],
[11,[-10,16.8,-9,17.5,-8.8,16,-9.4,15]],
[11,[-3.8,15.6,-3.3,16.4,-2.5,14.8,-3.2,13.8]],
[8,[-28.9,37.5,-24.4,41.6,-19.3,42.6,-14.5,41.4,-12.8,40.2,-9,40.2,-12.4,39.8,-15.8,39.6,-21,37.8,-26.1,37]],
[9,[-26.7,38.4,-23.5,41,-19.3,42,-14.1,40.6,-21,38,-25.3,37.6]],
[10,[-24.4,39.2,-21.8,40.8,-18,41.4,-16.2,41.2,-16.2,40,-21,38.4,-23.5,38.2]],
[8,[-6.4,41,-0.4,42,1,40.8,-3.8,40.6]],
[8,[25.2,40.2,28.8,41.8,35.7,42.2,38.7,40,35.7,38.8,32.7,37.4,29.7,38,29.7,39.6]],
[9,[28.6,41,35.7,41.2,36.5,40,32.7,38.8,32.2,37.7,30.3,37.8,30.1,40]],
[8,[-55.7,34.9,-54.4,35.9,-47.6,35.9,-42.4,33.7,-42.4,32.7,-47.1,32.1,-51.9,32.9]],
[9,[-52.7,35,-49.3,35,-49.1,34.7,-52.3,34.7]],
[8,[-33.8,32.7,-29.1,32.7,-25.3,34.1,-24,31.7,-20.1,29.1,-20.5,27.5,-24.4,27.5,-28.3,28.9]],
[9,[-29.1,31.7,-27.4,32.2,-24.8,30.1,-24.4,27.7,-27,27.9,-28.7,29.7]],
[10,[-27.4,29.7,-26.8,30.1,-25.7,28.9,-26.6,28.7]],
[9,[-26,32.9,-25.1,32.9,-25.6,32.3]],
[8,[-61,16.6,-57,15.6,-54.3,14.8,-55.3,12.8,-61,12]],
[9,[-61,15.2,-54.9,15,-54.9,13.8,-61,12.8]],
[10,[-61,14.6,-58.7,14,-61,13.4]],
[8,[41.2,34.9,43.4,35.5,49.4,35.9,54.5,35.9,61,35.1,61,30.3,54.5,31.3,50.2,31.1,45.1,32.7,42.5,33.7]],
[9,[45,33.7,47.3,35.1,53.2,34.7,53.2,32.9,51.9,31.9,46.8,32.5]],
[9,[55,32.9,57.1,34.5,61,34.1,61,31.3,56.3,31.5]],
[10,[48.4,33.7,49.4,33.8,49,33.4]],
[8,[36.8,18.5,37,20.5,39,20.9,41.2,19.3,42,18.5,40.8,17.3,37.6,17]],
[9,[36.8,20.3,38.3,20.5,40.8,19,37.4,17.5]],
[8,[37.4,14.8,38.7,15.6,39.3,13.8,37.4,14.4]],
[8,[28.6,10.2,34.8,11.6,37.4,10.4,41.7,10.2,43,8,43.8,14.4,41.2,19.7,47.3,19.9,51,19.7,53.7,19.3,56.7,18.5,58.4,19.3,61,20.1,61,0,29.4,0]],
[9,[30.5,9.8,34.8,11.2,37,9.8,41.2,9.4,41.2,4,38.7,0,30.5,0,30.3,6.4]],
[9,[41.9,19.3,43.4,20.3,49.4,19.3,50.2,16.6,51,19.7,53.2,18.9,53.7,16,58.4,13,58.4,18,61,19.3,61,0,45,0,43.6,6.4,43.8,14.4,42.6,17.6]],
[10,[45.8,9.6,47.8,17.1,48.9,14.6,53.2,13.6,56.2,12.4,58,8,57.5,2.8,55.8,4,53.2,2.8,51.1,4.8,47,6.2]],
[10,[33.8,6,35,9.3,36.5,6,35,2]],
[6,[28.4,13.6,32.2,15.2,34.4,16.4,36.1,13.2,33.5,11.8,29.7,12.8]],
[5,[29.3,13.6,32.7,15.4,34,13.8,33.5,12,31.2,12.8]],
[6,[-16.7,8.4,-10.7,11.6,-9,10.4,-8.8,1,-15.4,1]],
[5,[-15.4,7.2,-11.5,11.2,-9.1,7.6,-9.1,1,-12.8,1,-13.2,5.2]],
[6,[-6.8,1,-6.4,6.8,-4.7,2.4,-4.7,1]],
[6,[-6.8,9.6,-6.4,13.6,-5.1,10.8,-5.7,9.4]]
];

// contour labels of panel (a): lat, level, text
const ctrlLabels = [
[9,41.5,'17'],[0.6,41.2,'22.6'],[0.6,40.2,'28.2'],[-1.2,38.8,'33.8'],
[8.6,29.6,'50.6'],[9.9,27.5,'56.2'],[9.7,26.1,'61.8'],[9,24.7,'67.4'],
[26,25.1,'45'],[35.8,26.2,'39.4'],
[-28.5,21,'22.6'],[-27.4,18.5,'28.2'],[-26.7,17.2,'33.8'],
[-11,18.1,'39.4'],[-10.7,16.9,'45'],[26.9,14.4,'73'],[-55.7,15.7,'67.4']
];

const faintColorA = l => l===58 ? 'rgba(255,255,255,0.55)' : l>=37 ? 'rgba(255,255,255,0.22)' : l>=19 ? 'rgba(150,205,120,0.55)' : 'rgba(235,75,0,0.55)';
const faintColorDiff = l => l>=43 ? 'rgba(150,200,120,0.18)' : l===40 ? 'rgba(150,200,120,0.35)' : l>=28 ? 'rgba(150,200,120,0.55)' : 'rgba(170,205,140,0.42)';

const chart = echarts.init(document.getElementById('c'));
const panels = [
 {regions:regionsA, colors:ctrlColors, left:95,  top:9,   width:465, yLabels:true,  xLabels:false, border:3, stroke:'#a8a8a8'},
 {regions:regionsC, colors:diffColors, left:587, top:9,   width:466, yLabels:false, xLabels:false, border:2.5},
 {regions:regionsB, colors:diffColors, left:95,  top:557, width:465, yLabels:true,  xLabels:true,  border:2.5},
 {regions:regionsD, colors:diffColors, left:587, top:557, width:466, yLabels:false, xLabels:true,  border:2.5}
];
const grids=[], xAxes=[], yAxes=[], series=[];
panels.forEach((p,i)=>{
  grids.push({left:p.left,top:p.top,width:p.width,height:521,show:true,backgroundColor:i===0?ctrlColors[0]:'#fff',borderWidth:0,z:1});
  xAxes.push({gridIndex:i,type:'value',min:-60,max:60,interval:30,position:'bottom',
    axisLine:{show:true,onZero:false,lineStyle:{color:'#000',width:p.border}},splitLine:{show:false},
    axisTick:{show:p.xLabels,length:6,lineStyle:{color:'#000',width:2}},
    axisLabel:{show:p.xLabels,margin:10,color:'#000',fontFamily:'DejaVu Serif',fontSize:18,alignMinLabel:'left',alignMaxLabel:'right',formatter:v=>xTicks[v]}});
  yAxes.push({gridIndex:i,type:'value',min:1,max:64,
    axisLine:{show:true,onZero:false,lineStyle:{color:'#000',width:p.border}},splitLine:{show:false},
    axisTick:{show:p.yLabels,length:8,customValues:yTicks,lineStyle:{color:'#000',width:2}},
    axisLabel:{show:p.yLabels,margin:13,color:'#000',fontFamily:'Liberation Sans',fontSize:22,textBorderColor:'#000',textBorderWidth:0.5,customValues:yTicks,formatter:v=>String(v)}});
  series.push({type:'custom',coordinateSystem:'cartesian2d',xAxisIndex:i*2,yAxisIndex:i*2,clip:true,silent:true,z:2,
    encode:{x:0,y:1},
    data:p.regions.map(r=>[r[1][0],r[1][1]]),
    renderItem:(params,api)=>{
      const r=p.regions[params.dataIndex], pts=[];
      for(let k=0;k<r[1].length;k+=2) pts.push(api.coord([r[1][k],r[1][k+1]]));
      return {type:'polygon',shape:{points:pts,smooth:0.22},
        style:{fill:p.colors[r[0]],stroke:p.stroke||null,lineWidth:p.stroke?1.1:0}};
    },
    markLine:{silent:true,symbol:'none',animation:false,label:{show:false},
      lineStyle:{type:'solid',width:1},
      data:faintLevels.map(l=>({yAxis:l,lineStyle:{color:i===0?faintColorA(l):faintColorDiff(l)}}))}
  });
  // top and right borders
  xAxes.push({gridIndex:i,type:'value',min:-60,max:60,interval:30,position:'top',axisLine:{show:true,onZero:false,lineStyle:{color:'#000',width:p.border}},axisTick:{show:false},axisLabel:{show:false},splitLine:{show:false}});
  yAxes.push({gridIndex:i,type:'value',min:1,max:64,position:'right',axisLine:{show:true,onZero:false,lineStyle:{color:'#000',width:p.border}},axisTick:{show:false},axisLabel:{show:false},splitLine:{show:false}});
});
series.push({type:'scatter',xAxisIndex:0,yAxisIndex:0,symbolSize:2,itemStyle:{color:'transparent',opacity:1},z:8,silent:true,clip:false,
  labelLayout:{hideOverlap:false},
  data:ctrlLabels.map(d=>({value:[d[0],d[1]],text:d[2]})),
  label:{show:true,position:'inside',opacity:1,formatter:o=>o.data.text,color:'#000',backgroundColor:'#fff',padding:[1,1],fontFamily:'DejaVu Serif',fontWeight:'bold',fontSize:14,lineHeight:14}});

// colour bar
const cbIndex = xAxes.length;
grids.push({left:115,top:1136,width:909,height:29,show:false});
xAxes.push({gridIndex:4,type:'value',min:-1,max:14,interval:1,axisLine:{show:false},axisTick:{show:false},splitLine:{show:false},
  axisLabel:{margin:7,color:'#000',fontFamily:'DejaVu Serif',fontWeight:'bold',fontSize:18,hideOverlap:false,showMinLabel:false,showMaxLabel:false,
    formatter:v=>colorbarLabels[v]||''}});
yAxes.push({gridIndex:4,type:'value',min:0,max:1,show:false});
series.push({type:'custom',coordinateSystem:'cartesian2d',xAxisIndex:cbIndex,yAxisIndex:cbIndex,silent:true,clip:false,z:3,
  encode:{x:0,y:1},
  data:diffColors.map((c,i)=>[i-1,0.5]),
  renderItem:(params,api)=>{
    const i=params.dataIndex, x0=i-1, c=diffColors[i];
    const style={fill:c,stroke:'#222',lineWidth:1.4};
    if(i===0){
      return {type:'polygon',shape:{points:[api.coord([-1,0.5]),api.coord([0,1]),api.coord([0,0])]},style};
    }
    if(i===14){
      return {type:'polygon',shape:{points:[api.coord([14,0.5]),api.coord([13,1]),api.coord([13,0])]},style};
    }
    const a=api.coord([x0,1]), b=api.coord([x0+1,0]);
    return {type:'rect',shape:{x:a[0],y:a[1],width:b[0]-a[0],height:b[1]-a[1]},style};
  }
});

const note = (x,y,t,align,size)=>({type:'text',z:20,x:x,y:y,style:{text:t,fill:'#000',font:(size||28)+'px "Open Sans"',textAlign:align||'left',textVerticalAlign:'middle'}});
chart.setOption({
  animation:false,
  grid:grids,xAxis:xAxes,yAxis:yAxes,series:series,
  graphic:[
    {type:'text',z:20,x:32,y:273,rotation:Math.PI/2,style:{text:'GFS Model Vertical Levels',fill:'#000',font:'30px "Open Sans"',textAlign:'center',textVerticalAlign:'middle'}},
    {type:'text',z:20,x:32,y:817,rotation:Math.PI/2,style:{text:'GFS Model Vertical Levels',fill:'#000',font:'30px "Open Sans"',textAlign:'center',textVerticalAlign:'middle'}},
    note(107,40,'(a)','left',31),note(544,41,'A, CTRL','right'),
    note(607,41,'(c)','left',31),note(1033,41,'A-B, H8RAD','right'),
    note(110,589,'(b)','left',31),note(538,588,'A-B, CTRL','right'),
    note(603,590,'(d)','left',31),note(1046,588,'A-B, H8AMVRAD','right')
  ]
});
</script></body></html>
